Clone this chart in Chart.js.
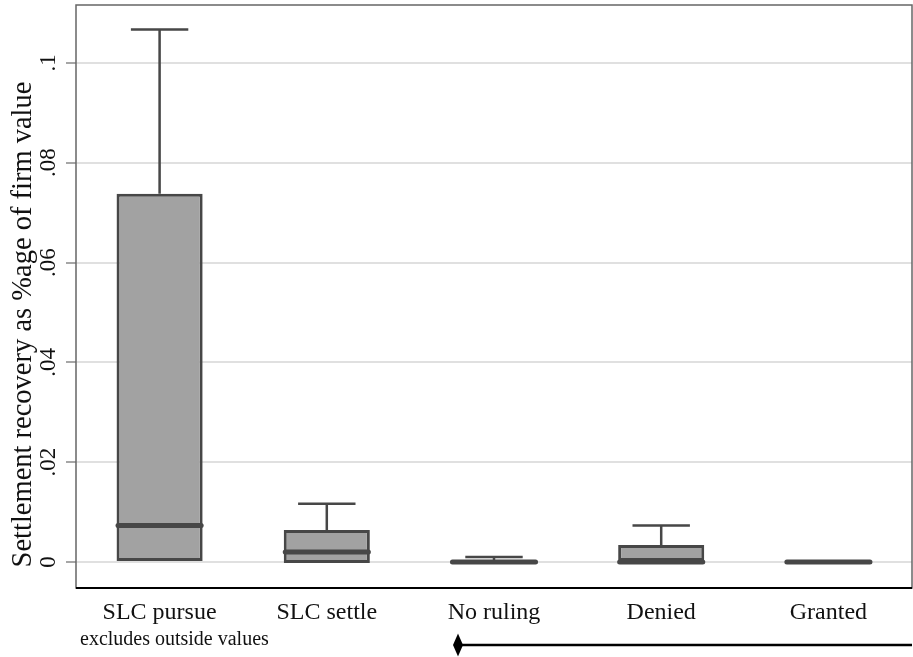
<!DOCTYPE html>
<html>
<head>
<meta charset="utf-8">
<script src="https://cdn.jsdelivr.net/npm/chart.js@4.4.1/dist/chart.umd.min.js"></script>
<style>
  html, body { margin: 0; padding: 0; background: #ffffff; }
  canvas { display: block; }
</style>
</head>
<body>
<canvas id="boxChart" width="913" height="657"></canvas>
<script>
var categories = ["SLC pursue", "SLC settle", "No ruling", "Denied", "Granted"];
var lowWhisker = [0, -0.0002, -0.0002, 0, 0];
var lowerQuartile = [0, -0.0002, -0.0002, 0, 0];
var medianValue = [0.0073, 0.0020, 0, 0, 0];
var upperQuartile = [0.0738, 0.0064, 0.0003, 0.0034, 0];
var highWhisker = [0.1067, 0.0117, 0.0010, 0.0073, 0];
var yTicks = [0, 0.02, 0.04, 0.06, 0.08, 0.1];
var yTickLabels = ["0", ".02", ".04", ".06", ".08", ".1"];
var yTitle = "Settlement recovery as %age of firm value";
var noteText = "excludes outside values";

var FONT = "'Liberation Serif', 'Times New Roman', serif";
var lineColor = "#474747";

var boxData = [];
for (var i = 0; i < categories.length; i++) {
    boxData.push([lowerQuartile[i], upperQuartile[i]]);
}

// whiskers, caps and medians on top of the floating bars
var boxPlugin = {
    id: "boxParts",
    afterDatasetsDraw: function (chart) {
        var ctx = chart.ctx;
        var y = chart.scales.y;
        var bars = chart.getDatasetMeta(0).data;
        ctx.save();
        ctx.strokeStyle = lineColor;
        for (var i = 0; i < bars.length; i++) {
            var cx = bars[i].x;
            var half = bars[i].width / 2;
            var capHalf = half * 2 / 3;
            ctx.lineWidth = 2.5;
            ctx.lineCap = "butt";
            if (highWhisker[i] > upperQuartile[i]) {
                var top = y.getPixelForValue(highWhisker[i]);
                ctx.beginPath();
                ctx.moveTo(cx, y.getPixelForValue(upperQuartile[i]));
                ctx.lineTo(cx, top);
                ctx.moveTo(cx - capHalf, top);
                ctx.lineTo(cx + capHalf, top);
                ctx.stroke();
            }
            if (lowWhisker[i] < lowerQuartile[i]) {
                var bot = y.getPixelForValue(lowWhisker[i]);
                ctx.beginPath();
                ctx.moveTo(cx, y.getPixelForValue(lowerQuartile[i]));
                ctx.lineTo(cx, bot);
                ctx.moveTo(cx - capHalf, bot);
                ctx.lineTo(cx + capHalf, bot);
                ctx.stroke();
            }
            var my = y.getPixelForValue(medianValue[i]);
            ctx.lineWidth = 5;
            ctx.lineCap = "round";
            ctx.beginPath();
            ctx.moveTo(cx - half + 1.5, my);
            ctx.lineTo(cx + half - 1.5, my);
            ctx.stroke();
        }
        ctx.restore();
    },
    afterDraw: function (chart) {
        var ctx = chart.ctx;
        var a = chart.chartArea;
        var y = chart.scales.y;
        ctx.save();
        // frame
        ctx.strokeStyle = "#666666";
        ctx.lineWidth = 1.5;
        ctx.strokeRect(a.left, a.top, a.right - a.left, a.bottom - a.top);
        ctx.strokeStyle = "#000000";
        ctx.lineWidth = 2;
        ctx.beginPath();
        ctx.moveTo(a.left, a.bottom);
        ctx.lineTo(a.right, a.bottom);
        ctx.stroke();

        // rotated y tick labels
        ctx.fillStyle = "#111111";
        ctx.font = "23px " + FONT;
        ctx.textAlign = "center";
        ctx.textBaseline = "alphabetic";
        for (var i = 0; i < yTicks.length; i++) {
            ctx.save();
            ctx.translate(55, y.getPixelForValue(yTicks[i]));
            ctx.rotate(-Math.PI / 2);
            ctx.fillText(yTickLabels[i], 0, 0);
            ctx.restore();
        }

        // y title
        ctx.save();
        ctx.font = "28.5px " + FONT;
        ctx.translate(31, 324.5);
        ctx.rotate(-Math.PI / 2);
        ctx.fillText(yTitle, 0, 0);
        ctx.restore();

        // note
        ctx.font = "20px " + FONT;
        ctx.textAlign = "left";
        ctx.fillText(noteText, a.left + 4, a.bottom + 57);

        // legend key line with diamond
        var ly = a.bottom + 57;
        var lx = a.left + 382;
        ctx.strokeStyle = "#000000";
        ctx.lineWidth = 2.5;
        ctx.beginPath();
        ctx.moveTo(lx, ly);
        ctx.lineTo(a.right, ly);
        ctx.stroke();
        ctx.fillStyle = "#000000";
        ctx.beginPath();
        ctx.moveTo(lx, ly - 11.5);
        ctx.lineTo(lx + 5, ly);
        ctx.lineTo(lx, ly + 11.5);
        ctx.lineTo(lx - 5, ly);
        ctx.closePath();
        ctx.fill();
        ctx.restore();
    }
};

new Chart(document.getElementById("boxChart"), {
    type: "bar",
    data: {
        labels: categories,
        datasets: [{
            label: "box",
            data: boxData,
            backgroundColor: "#a2a2a2",
            borderColor: lineColor,
            borderWidth: 3,
            borderSkipped: false,
            categoryPercentage: 1,
            barPercentage: 0.515
        }]
    },
    options: {
        responsive: false,
        animation: false,
        devicePixelRatio: 1,
        layout: { padding: { top: 5, right: 1, bottom: 0, left: 0 } },
        plugins: {
            legend: { display: false },
            tooltip: { enabled: false },
            title: { display: false }
        },
        scales: {
            x: {
                grid: { display: false, drawTicks: false },
                border: { display: false },
                ticks: {
                    color: "#111111",
                    padding: 10,
                    maxRotation: 0,
                    font: { family: FONT, size: 24 }
                },
                afterFit: function (scale) { scale.height = 69; }
            },
            y: {
                min: -0.0052,
                max: 0.1116,
                grid: {
                    color: "#e0e0e0",
                    lineWidth: 2,
                    tickColor: "#888888",
                    tickWidth: 1.5,
                    tickLength: 10
                },
                border: { display: false },
                ticks: { display: false },
                afterBuildTicks: function (scale) {
                    scale.ticks = yTicks.map(function (v) { return { value: v }; });
                },
                afterFit: function (scale) { scale.width = 76; }
            }
        }
    },
    plugins: [boxPlugin]
});
</script>
</body>
</html>
